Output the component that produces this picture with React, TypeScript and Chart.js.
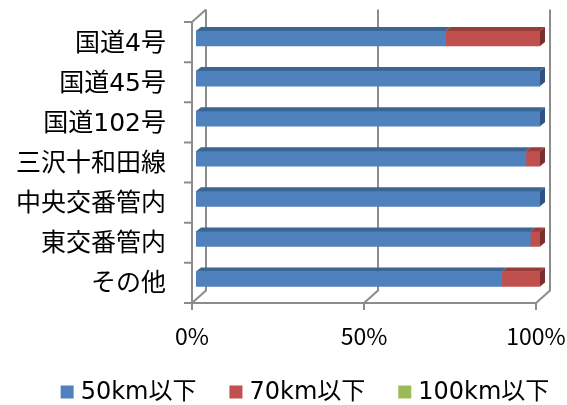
import React, { useEffect, useRef } from 'react';
import { Chart, registerables } from 'chart.js';

Chart.register(...registerables);

const categories = ['国道4号', '国道45号', '国道102号', '三沢十和田線', '中央交番管内', '東交番管内', 'その他'];
const seriesNames = ['50km以下', '70km以下', '100km以下'];
const under50 = [72.6, 100, 100, 95.9, 100, 97.2, 88.9];
const under70 = [27.4, 0, 0, 4.1, 0, 2.8, 11.1];
const under100 = [0, 0, 0, 0, 0, 0, 0];
const xTicks = [0, 50, 100];

const colors = ['#4F81BD', '#C0504D', '#9BBB59'];
const topColors = ['#3A6594', '#983C3A', '#7A9645'];
const sideColors = ['#2E5281', '#7C2E2C', '#637C37'];

const labelFont = "'DejaVu Sans', 'Noto Sans CJK JP', sans-serif";
const tickFont = "'Noto Sans CJK JP', sans-serif";

const frame3d = {
  id: 'frame3d',
  beforeDatasetsDraw(chart: any) {
    const { ctx, chartArea: ca, scales } = chart;
    const x = scales.x;
    const FX = -4;
    const DX = 14, DY = -12.5;
    const top = ca.top + 3.5;
    const bottom = ca.bottom + 4;
    const x0 = x.getPixelForValue(0) + FX;
    const x100 = x.getPixelForValue(100) + FX;
    ctx.save();
    ctx.strokeStyle = '#8c8c8c';
    ctx.lineWidth = 2;
    ctx.beginPath();
    ctx.moveTo(x0, top);
    ctx.lineTo(x0, bottom);
    ctx.moveTo(x0, top);
    ctx.lineTo(x0 + DX, top + DY);
    const n = categories.length;
    for (let i = 0; i <= n; i++) {
      const yy = top + ((bottom - top) * i) / n;
      ctx.moveTo(x0 - 8, yy);
      ctx.lineTo(x0, yy);
    }
    ctx.moveTo(x0, bottom);
    ctx.lineTo(x100, bottom);
    xTicks.forEach((v) => {
      const px = x.getPixelForValue(v) + FX;
      ctx.moveTo(px, bottom);
      ctx.lineTo(px, bottom + 7);
      ctx.moveTo(px, bottom);
      ctx.lineTo(px + DX, bottom + DY);
      ctx.lineTo(px + DX, top + DY);
    });
    ctx.stroke();
    ctx.restore();
  },
};

const bars3d = {
  id: 'bars3d',
  afterDatasetsDraw(chart: any) {
    const ctx = chart.ctx;
    const dx = 5, dy = -4;
    const n = chart.data.labels.length;
    const metas = chart.data.datasets.map((_: any, i: number) => chart.getDatasetMeta(i));
    ctx.save();
    for (let j = 0; j < n; j++) {
      let last = -1;
      metas.forEach((m: any, i: number) => {
        const v = chart.data.datasets[i].data[j];
        if (v > 0) {
          last = i;
          const { x, y, base, height } = m.data[j].getProps(['x', 'y', 'base', 'height'], true);
          const t = y - height / 2;
          ctx.fillStyle = topColors[i];
          ctx.beginPath();
          ctx.moveTo(base, t);
          ctx.lineTo(x, t);
          ctx.lineTo(x + dx, t + dy);
          ctx.lineTo(base + dx, t + dy);
          ctx.closePath();
          ctx.fill();
        }
      });
      if (last >= 0) {
        const { x, y, height } = metas[last].data[j].getProps(['x', 'y', 'base', 'height'], true);
        const t = y - height / 2;
        const b = y + height / 2;
        ctx.fillStyle = sideColors[last];
        ctx.beginPath();
        ctx.moveTo(x, t);
        ctx.lineTo(x + dx, t + dy);
        ctx.lineTo(x + dx, b + dy);
        ctx.lineTo(x, b);
        ctx.closePath();
        ctx.fill();
      }
    }
    ctx.restore();
  },
};

const legendPlugin = {
  id: 'customLegend',
  afterDraw(chart: any) {
    const ctx = chart.ctx;
    const box = 13, gapText = 7, gapItem = 33;
    const cy = 392;
    ctx.save();
    ctx.font = `24px ${labelFont}`;
    ctx.textBaseline = 'middle';
    ctx.textAlign = 'left';
    const ds = chart.data.datasets;
    const widths = ds.map((d: any) => box + gapText + ctx.measureText(d.label).width);
    const total = widths.reduce((a: number, b: number) => a + b, 0) + gapItem * (ds.length - 1);
    let xx = 305 - total / 2;
    ds.forEach((d: any, i: number) => {
      ctx.fillStyle = d.backgroundColor;
      ctx.fillRect(xx, cy - box / 2, box, box);
      ctx.fillStyle = '#000';
      ctx.fillText(d.label, xx + box + gapText, cy + 1);
      xx += widths[i] + gapItem;
    });
    ctx.restore();
  },
};

export default function App() {
  const ref = useRef<HTMLCanvasElement | null>(null);
  useEffect(() => {
    if (!ref.current) return;
    const seriesData = [under50, under70, under100];
    const chart = new Chart(ref.current, {
      type: 'bar',
      data: {
        labels: categories,
        datasets: seriesNames.map((name, i) => ({
          label: name,
          data: seriesData[i],
          backgroundColor: colors[i],
          borderWidth: 0,
          barThickness: 15,
        })),
      },
      options: {
        responsive: false,
        animation: false,
        indexAxis: 'y',
        layout: { padding: { top: 18.5, right: 27, bottom: 0, left: 0 } },
        plugins: { legend: { display: false }, tooltip: { enabled: false } },
        scales: {
          x: {
            stacked: true,
            min: 0,
            max: 100,
            grid: { display: false, drawTicks: false },
            border: { display: false },
            ticks: {
              stepSize: 50,
              autoSkip: false,
              maxRotation: 0,
              labelOffset: -4,
              padding: 23,
              color: '#000',
              font: { family: tickFont, size: 23 },
              callback: (v: any) => `${v}%`,
            },
            afterFit: (s: any) => {
              s.height = 106;
              s.paddingLeft = 0;
              s.paddingRight = 0;
              s.paddingTop = 0;
              s.paddingBottom = 0;
            },
          },
          y: {
            stacked: true,
            grid: { display: false, drawTicks: false },
            border: { display: false },
            ticks: {
              padding: 30,
              labelOffset: 6,
              color: '#000',
              font: { family: labelFont, size: 25 },
            },
            afterFit: (s: any) => {
              s.width = 196;
              s.paddingTop = 0;
              s.paddingBottom = 0;
              s.paddingLeft = 0;
              s.paddingRight = 0;
            },
          },
        },
      } as any,
      plugins: [frame3d, bars3d, legendPlugin],
    });
    return () => chart.destroy();
  }, []);
  return (
    <div style={{ position: 'absolute', left: 0, top: 0, width: 567, height: 405, background: '#fff' }}>
      <canvas ref={ref} width={567} height={405} style={{ display: 'block' }} />
    </div>
  );
}
